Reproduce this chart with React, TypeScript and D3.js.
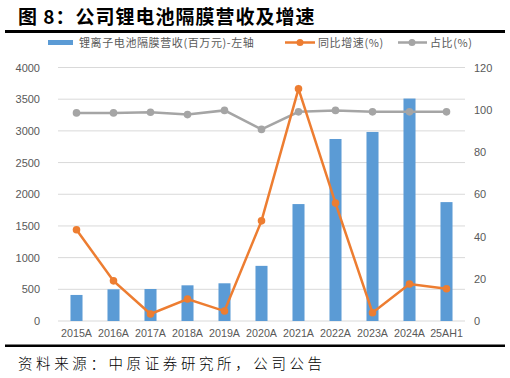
import React from "react";
import * as d3 from "d3";

const categories = ["2015A", "2016A", "2017A", "2018A", "2019A", "2020A", "2021A", "2022A", "2023A", "2024A", "25AH1"];
const revenue = [411, 500, 505, 563, 595, 870, 1845, 2872, 2983, 3510, 1876];
const growth = [43.2, 19.0, 3.3, 10.4, 4.7, 47.4, 109.9, 55.8, 3.9, 17.5, 15.3];
const share = [98.5, 98.5, 98.8, 97.7, 99.7, 90.7, 99.0, 99.7, 99.0, 99.0, 99.0];
const leftTicks = [0, 500, 1000, 1500, 2000, 2500, 3000, 3500, 4000];
const rightTicks = [0, 20, 40, 60, 80, 100, 120];

const W = 510, H = 378;
const M = { left: 58, right: 465, top: 67.5, bottom: 321 };
const BLUE = "#5B9BD5", ORANGE = "#ED7D31", GRAY = "#A5A5A5", TXT = "#595959";
const CJK = "'Noto Sans CJK SC', 'Noto Sans', sans-serif";
const LAT = "'Liberation Sans', Arial, sans-serif";

export default function App() {
  const x = d3.scaleBand<string>().domain(categories).range([M.left, M.right]).paddingInner(0.675).paddingOuter(0.3375);
  const xc = (c: string) => (x(c) as number) + x.bandwidth() / 2;
  const yL = d3.scaleLinear().domain([0, 4000]).range([M.bottom, M.top]);
  const yR = d3.scaleLinear().domain([0, 120]).range([M.bottom, M.top]);
  const lineG = d3.line<number>().x((_, i) => xc(categories[i])).y((d) => yR(d));

  return (
    <div style={{ position: "absolute", left: 0, top: 0 }}>
      <svg width={W} height={H} style={{ display: "block", background: "#fff" }}>
        <text x={18} y={24} fontFamily={CJK} fontWeight={700} fontSize={19} letterSpacing={1} fill="#000">
          图 8：公司锂电池隔膜营收及增速
        </text>
        <rect x={5} y={30} width={500} height={3} fill="#000" />

        {/* legend */}
        <rect x={48} y={40} width={25} height={5} fill={BLUE} />
        <text x={79} y={46.5} fontFamily={CJK} fontSize={11} fill={TXT} letterSpacing={0.6}>锂离子电池隔膜营收(百万元)-左轴</text>
        <line x1={285} x2={315} y1={42.5} y2={42.5} stroke={ORANGE} strokeWidth={2.5} />
        <circle cx={300} cy={42.5} r={3.5} fill={ORANGE} />
        <text x={318} y={46.5} fontFamily={CJK} fontSize={11} fill={TXT} letterSpacing={0.6}>同比增速(%)</text>
        <line x1={398} x2={427} y1={42.5} y2={42.5} stroke={GRAY} strokeWidth={2.5} />
        <circle cx={412} cy={42.5} r={3.5} fill={GRAY} />
        <text x={430} y={46.5} fontFamily={CJK} fontSize={11} fill={TXT} letterSpacing={0.6}>占比(%)</text>

        {/* grid */}
        {leftTicks.map((t) => (
          <line key={t} x1={M.left} x2={M.right} y1={yL(t)} y2={yL(t)} stroke="#D9D9D9" strokeWidth={1} />
        ))}
        {leftTicks.map((t) => (
          <text key={"l" + t} x={40} y={yL(t) + 4} textAnchor="end" fontFamily={LAT} fontSize={11} fill={TXT}>{t}</text>
        ))}
        {rightTicks.map((t) => (
          <text key={"r" + t} x={474} y={yR(t) + 4} textAnchor="start" fontFamily={LAT} fontSize={11} fill={TXT}>{t}</text>
        ))}

        {/* bars */}
        {revenue.map((v, i) => (
          <rect key={i} x={x(categories[i])} y={yL(v)} width={x.bandwidth()} height={yL(0) - yL(v)} fill={BLUE} />
        ))}

        {/* x labels */}
        {categories.map((c) => (
          <text key={c} x={xc(c)} y={337} textAnchor="middle" fontFamily={LAT} fontSize={10.7} fill={TXT}>{c}</text>
        ))}

        {/* lines */}
        <path d={lineG(share) || ""} fill="none" stroke={GRAY} strokeWidth={2.5} />
        {share.map((v, i) => (
          <circle key={"s" + i} cx={xc(categories[i])} cy={yR(v)} r={3.8} fill={GRAY} />
        ))}
        <path d={lineG(growth) || ""} fill="none" stroke={ORANGE} strokeWidth={2.5} />
        {growth.map((v, i) => (
          <circle key={"g" + i} cx={xc(categories[i])} cy={yR(v)} r={3.8} fill={ORANGE} />
        ))}

        <rect x={5} y={344.5} width={500} height={2.5} fill="#000" />
        <text x={18} y={369} fontFamily={CJK} fontSize={14.5} fontWeight={300} fill="#000" letterSpacing={3.6}>
          资料来源：中原证券研究所，公司公告
        </text>
      </svg>
    </div>
  );
}
